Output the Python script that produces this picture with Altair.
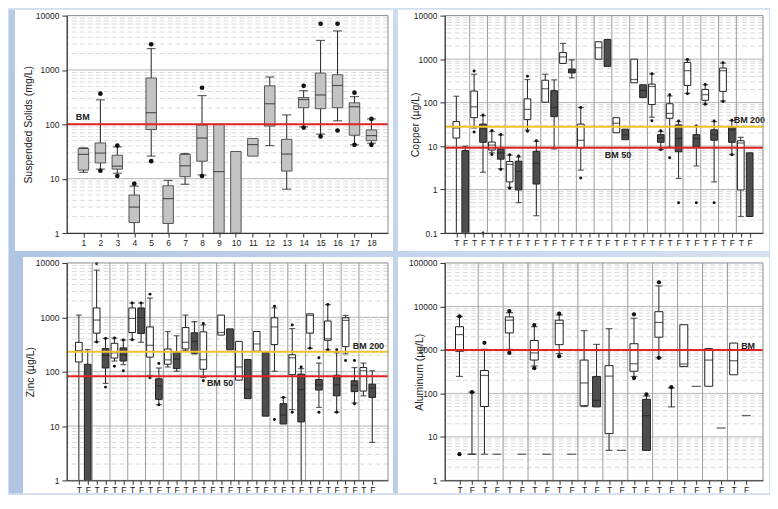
import altair as alt
import pandas as pd

FONT = "Liberation Sans"

# ---------------- Suspended solids (18 sites) ----------------
SS_CAT = list(range(1, 19))
SS_Q1 = [14.4, 19.5, 15, 1.56, 80, 1.5, 10.9, 21, 1, 1, 26, 93, 13.8, 202, 194, 202, 63, 50]
SS_MED = [28, 29.6, 17, 3.0, 164, 4.3, 17.3, 56, 13.5, None, 42.4, 239, 28.4, 286, 347, 518, 211, 62]
SS_Q3 = [36, 45.5, 27, 5.0, 713, 7.4, 28, 97, 100, 31.7, 55, 511, 53, 311, 877, 818, 249, 79]
SS_WLO = [13.1, 15, 12.6, 1, 26, 1, 7.9, 11.7, None, None, None, 40.7, 6.4, 90, 66, 116, 42, 45]
SS_WHI = [37, 282, 38.5, 7.3, 2473, 9.3, 29, 338, None, None, None, 743, 149, 416, 3496, 5224, 324, 126]
SS_OUT = [[], [367, 14], [40.7, 11.2], [8.1], [2960, 21], [], [], [471, 11.2], [], [], [], [],
          [], [511, 87], [7079, 60], [7079, 77], [383, 42], [126, 42]]

# ---------------- Copper (T/F pairs, 17 sites) ----------------
CU_Q1 = [15.3, 0.1, 45, 12.2, 8.1, 5.0, 1.5, 0.98, 40.6, 1.34, 102, 47.5, 795, 480, 9.1, None, 996, 680,
         20.3, 14, 285, 130, 90, 12.2, 43.5, 7.4, 248, 9.4, 113, 13.6, 181, 12.2, 0.98, 0.24]
CU_MED = [26, None, 80, 25, 10.5, 7, 3.8, 2.6, 70, 4.0, 208, 77, 1125, 533, 13.6, None, 1832, None,
          33.6, 18, 339, 191, 235, 15.3, 56.5, 15, 542, 14.8, 152, 18.3, 542, 23.7, 11.8, None]
CU_Q3 = [36.6, 7.9, 184, 32, 12.4, 8.6, 4.4, 4.5, 122, 7.6, 327, 188, 1412, 592, 32, None, 2506, 2830,
         45, 24.5, 996, 257, 266, 18.3, 94, 30.7, 837, 18.3, 201, 23.7, 623, 28.2, 13.3, 7.0]
CU_WLO = [0.1, 0.1, 26, 2.5, 7.0, 3.0, 1.13, 0.5, 23.3, 0.25, None, 8.6, None, 370, 2.8, None, None, None,
          None, None, None, None, 46, 8.3, 9.4, 1.8, 163, 3.5, 92, 1.5, 109, 6.4, 0.24, None]
CU_WHI = [140, 9.9, 448, 50, 21.7, 18, 6.2, 5.6, 339, 12.9, 448, 333, 2296, 962, 77, None, None, None,
          None, None, None, None, 456, 21.7, 142, 36.6, 962, 28.2, 257, 36.6, 809, 38.6, 15.9, None]
CU_OUT = [[], [], [533, 21], [52, 0.1], [22.8, 6.4], [18.5, 2.9], [6.3, 1.07], [5.9], [404, 22], [13.3],
          [], [], [], [], [77, 1.84], [], [], [], [], [], [], [], [460, 38], [22.5, 8.3], [152, 5.4],
          [37.5, 0.5], [980, 160], [29, 0.5], [262, 92], [37.5, 0.5], [830, 106], [39.5, 6.3], [], []]

# ---------------- Zinc ----------------
ZN_Q1 = [151, 1, 512, 117, 178, 157, 526, 505, 185, 31, 137, 114, 262, 219, 111, None, 471, 252,
         70, 32, 238, 15.2, 315, 10.9, 88, 11.9, 512, 46, 377, 36, 289, 43, 44, 33.6]
ZN_MED = [245, None, 891, 199, 222, 205, 956, 982, 306, 55, 165, 170, 347, 360, 166, None, 526, None,
          122, 47, 324, None, 666, 15.9, 180, 47, 1084, 57, 404, 57, 879, 56, 104, 50]
ZN_Q3 = [347, 137, 1490, 266, 333, 274, 1490, 1490, 666, 74, 262, 228, 648, 519, 541, None, 1098, 613,
         361, 168, 548, 225, 982, 25.8, 205, 90, 1161, 72, 855, 86, 982, 68, 119, 59]
ZN_WLO = [1, 1, 352, 61, 157, 135, 388, 347, 85, 24.7, 122, 102, 245, 213, 78, None, None, None,
          None, None, None, None, 102, None, 20, 1, 270, 22, 252, 18, 213, 26.5, 36, 5.0]
ZN_WHI = [1098, 255, 7370, 410, 415, 382, 1836, 1836, 2262, 117, 548, 458, 1098, 832, 724, None, None, None,
          None, None, None, None, 1490, 33.6, 621, 114, None, 144, 1713, 222, 1084, 119, 144, 104]
ZN_OUT = [[], [], [9730, 352], [410, 52], [415, 126], [382, 104], [1836, 388], [1836], [2672, 77], [141, 24.7],
          [], [], [], [], [766, 68], [], [], [], [], [], [], [], [1600, 13.2], [33.6], [724, 18], [122],
          [270], [180, 18], [1713, 252], [252, 18], [161], [161, 25.8], [], []]

# ---------------- Aluminum (12 sites) ----------------
AL_Q1 = [933, None, 50, None, 2460, None, 585, None, 1320, None, 52, 49, 11.9, None, 324, 4.9,
         1964, None, 414, None, 146, None, 268, None]
AL_MED = [2256, 4, 259, 4, 4830, 4, 856, 4, 4064, 4, 174, 69.5, 250, 4.9, 483, 30.8,
          4285, None, 475, 146, 585, 16, 565, 31]
AL_Q3 = [3420, None, 336, None, 5745, None, 1652, None, 4830, None, 585, 246, 435, None, 1390, 73,
         7580, None, 3793, None, 1071, None, 1438, None]
AL_WLO = [246, 4, 4, None, 1035, None, 428, None, 827, None, 50, None, 4.9, None, 246, None,
          661, 49, None, None, None, None, None, None]
AL_WHI = [5847, 107, 1035, None, 7195, None, 3420, None, 6380, None, 2778, 1342, 3081, None, 5360, 87,
          29760, 134, None, None, None, None, None, None]
AL_OUT = [[5900, 4.0], [107], [1462], [], [7850, 856], [], [3727, 380], [], [6834, 719], [], [], [],
          [], [], [6600, 226], [95], [35960, 661], [139], [], [], [], [], [], []]

TF = ["T", "F"]


def decades(lo, hi):
    out, v = [], lo
    while v <= hi * 1.0001:
        out.append(round(v, 6))
        v *= 10
    return out


def frames(xs, fills, q1, med, q3, wlo, whi, outs, ymin):
    box, mid, dash, wh, cap, pts = [], [], [], [], [], []
    for i, x in enumerate(xs):
        if q1[i] is not None and q3[i] is not None:
            box.append({"x": x, "lo": q1[i], "hi": q3[i], "fill": fills[i]})
            if med[i] is not None:
                mid.append({"x": x, "v": med[i]})
        elif med[i] is not None:
            dash.append({"x": x, "v": med[i]})
        if wlo[i] is not None or whi[i] is not None:
            lo = wlo[i] if wlo[i] is not None else (q1[i] if q1[i] is not None else med[i])
            hi = whi[i] if whi[i] is not None else (q3[i] if q3[i] is not None else med[i])
            wh.append({"x": x, "lo": lo, "hi": hi})
            for c in (wlo[i], whi[i]):
                if c is not None and c > ymin * 1.0001:
                    cap.append({"x": x, "v": c})
        for o in outs[i]:
            pts.append({"x": x, "v": o})
    cols = {"box": ["x", "lo", "hi", "fill"], "mid": ["x", "v"], "dash": ["x", "v"],
            "wh": ["x", "lo", "hi"], "cap": ["x", "v"], "pts": ["x", "v"]}
    d = dict(box=box, mid=mid, dash=dash, wh=wh, cap=cap, pts=pts)
    return {k: pd.DataFrame(v, columns=cols[k]) for k, v in d.items()}


def panel(xs, fills, q1, med, q3, wlo, whi, outs, *, ymin, ymax, W, H, xdom, xaxis,
          ytitle, title_x, boxw, capw, dotsize, dashw, box_stroke, seps,
          bm_lines, bm_texts, white, extra=None):
    yscale = alt.Scale(type="log", domain=[ymin, ymax], nice=False)
    xscale = alt.Scale(domain=xdom, nice=False, zero=False)
    decs = decades(ymin, ymax)
    minor = [round(m * d, 6) for d in decs[:-1] for m in range(2, 10)]
    yaxis = alt.Axis(values=decs, format="~g", title=ytitle, grid=False, zindex=1,
                     tickSize=5, tickColor="#333", domainColor="#333", labelPadding=3,
                     labelFontSize=8.5, labelColor="#222", titleFontSize=10.5,
                     titleFontWeight="normal", titleColor="#222", titleX=title_x,
                     titleY=H / 2, titleBaseline="middle", titleAngle=270)
    X = lambda f: alt.X(f, scale=xscale, axis=xaxis)
    Y = lambda f: alt.Y(f, scale=yscale, axis=yaxis)
    f = frames(xs, fills, q1, med, q3, wlo, whi, outs, ymin)
    one = pd.DataFrame({"a": [0]})
    layers = []
    if extra is not None:
        layers.append(extra)
    layers.append(alt.Chart(one).mark_rect(color="white").encode(
        x=alt.value(white[0]), x2=alt.value(white[1]), y=alt.value(white[2]), y2=alt.value(white[3])))
    layers.append(alt.Chart(pd.DataFrame({"v": minor})).mark_rule(
        color="#d9d9d9", strokeDash=[5, 3], strokeWidth=1).encode(y=Y("v:Q")))
    layers.append(alt.Chart(pd.DataFrame({"v": decs[1:-1]})).mark_rule(
        color="#b5b5b5", strokeWidth=1).encode(y=Y("v:Q")))
    if seps:
        layers.append(alt.Chart(pd.DataFrame({"s": seps})).mark_rule(
            color="#9c9c9c", strokeWidth=1).encode(x=X("s:Q")))
    layers.append(alt.Chart(f["wh"]).mark_rule(color="#222", strokeWidth=1).encode(
        x=X("x:Q"), y=Y("lo:Q"), y2="hi:Q"))
    layers.append(alt.Chart(f["box"]).mark_bar(size=boxw, stroke=box_stroke, strokeWidth=1).encode(
        x=X("x:Q"), y=Y("lo:Q"), y2="hi:Q", color=alt.Color("fill:N", scale=None)))
    layers.append(alt.Chart(f["mid"]).mark_tick(orient="horizontal", size=boxw, thickness=1.2,
                                                color="#222").encode(x=X("x:Q"), y=Y("v:Q")))
    layers.append(alt.Chart(f["cap"]).mark_tick(orient="horizontal", size=capw, thickness=1.2,
                                                color="#222").encode(x=X("x:Q"), y=Y("v:Q")))
    if len(f["dash"]):
        layers.append(alt.Chart(f["dash"]).mark_tick(orient="horizontal", size=dashw, thickness=1.3,
                                                     color="#222").encode(x=X("x:Q"), y=Y("v:Q")))
    layers.append(alt.Chart(f["pts"]).mark_circle(size=dotsize, color="#111", opacity=1).encode(
        x=X("x:Q"), y=Y("v:Q")))
    for val, col in bm_lines:
        layers.append(alt.Chart(pd.DataFrame({"v": [val]})).mark_rule(color=col, strokeWidth=2).encode(
            y=Y("v:Q")))
    for tx, xv, yv, dy in bm_texts:
        layers.append(alt.Chart(pd.DataFrame({"x": [xv], "v": [yv], "t": [tx]})).mark_text(
            align="left", baseline="middle", fontSize=9, fontWeight="bold", color="#222",
            font=FONT, dy=dy).encode(x=X("x:Q"), y=Y("v:Q"), text="t:N"))
    layers.append(alt.Chart(one).mark_rect(fillOpacity=0, stroke="#8c8c8c", strokeWidth=1).encode(
        x=alt.value(0), x2=alt.value(W), y=alt.value(0), y2=alt.value(H)))
    return alt.layer(*layers).properties(width=W, height=H)


def tf_axis(n):
    return alt.Axis(values=list(range(n)), labelExpr="datum.value % 2 == 0 ? 'T' : 'F'",
                    title=None, grid=False, zindex=1, tickSize=4, tickColor="#333",
                    domainColor="#333", labelFontSize=8.5, labelColor="#222", labelPadding=1,
                    labelFlush=False, labelOverlap=False)


W1, W2, H = 322, 319, 218
one = pd.DataFrame({"a": [0]})
bg = alt.Chart(one).mark_rect(color=alt.LinearGradient(
    gradient="linear", x1=0, y1=0.4, x2=1, y2=0,
    stops=[alt.GradientStop(color="#b0c5e4", offset=0),
           alt.GradientStop(color="#ccd9ef", offset=0.55),
           alt.GradientStop(color="#dde6f4", offset=1)])).encode(
    x=alt.value(-58), x2=alt.value(704), y=alt.value(-6), y2=alt.value(479))

TF_FILL = {"T": "#ffffff", "F": "#4d4d4d"}

p1 = panel(SS_CAT, ["#c3c3c3"] * 18, SS_Q1, SS_MED, SS_Q3, SS_WLO, SS_WHI, SS_OUT,
           ymin=1, ymax=10000, W=W1, H=H, xdom=[0.315, 18.685],
           xaxis=alt.Axis(values=SS_CAT, format="d", title=None, grid=False, zindex=1, tickSize=4,
                          tickColor="#333", domainColor="#333", labelFontSize=8.5,
                          labelColor="#222", labelPadding=1),
           ytitle="Suspended Solids (mg/L)", title_x=-38, boxw=10.5, capw=9, dotsize=22, dashw=10,
           box_stroke="#555", seps=None,
           bm_lines=[(100, "#e02424")], bm_texts=[("BM", 0.55, 100, -7)],
           white=(-52, W1 + 5, -6, H + 18), extra=bg)

SEP17 = [k + 0.5 for k in range(1, 33, 2)]
p2 = panel(list(range(34)), [TF_FILL[TF[i % 2]] for i in range(34)],
           CU_Q1, CU_MED, CU_Q3, CU_WLO, CU_WHI, CU_OUT,
           ymin=0.1, ymax=10000, W=W2, H=H, xdom=[-0.73, 33.94], xaxis=tf_axis(34),
           ytitle="Copper (µg/L)", title_x=-29, boxw=6.7, capw=6, dotsize=9, dashw=8,
           box_stroke="#222", seps=SEP17,
           bm_lines=[(28, "#f2c12e"), (9.1, "#e02424")],
           bm_texts=[("BM 200", 31.2, 28, -7), ("BM 50", 16.7, 9.1, 7)],
           white=(-47, W2 + 6, -6, H + 18))

p3 = panel(list(range(34)), [TF_FILL[TF[i % 2]] for i in range(34)],
           ZN_Q1, ZN_MED, ZN_Q3, ZN_WLO, ZN_WHI, ZN_OUT,
           ymin=1, ymax=10000, W=W1, H=H, xdom=[-0.79, 34.21], xaxis=tf_axis(34),
           ytitle="Zinc (µg/L)", title_x=-36, boxw=6.7, capw=6, dotsize=9, dashw=8,
           box_stroke="#222", seps=SEP17,
           bm_lines=[(232, "#f2c12e"), (82, "#e02424")],
           bm_texts=[("BM 200", 30.8, 232, -6), ("BM 50", 14.4, 82, 7)],
           white=(-44, W1 + 5, -6, H + 13))

SEP12 = [k + 0.5 for k in range(1, 23, 2)]
p4 = panel(list(range(24)), [TF_FILL[TF[i % 2]] for i in range(24)],
           AL_Q1, AL_MED, AL_Q3, AL_WLO, AL_WHI, AL_OUT,
           ymin=1, ymax=100000, W=W2, H=H, xdom=[-0.775, 23.955], xaxis=tf_axis(24),
           ytitle="Aluminum (µg/L)", title_x=-25, boxw=8, capw=7, dotsize=18, dashw=9,
           box_stroke="#222", seps=SEP12,
           bm_lines=[(1000, "#e02424")], bm_texts=[("BM", 22.6, 1000, -4)],
           white=(-47, W2 + 6, -6, H + 13))

chart = alt.concat(p1, p2, p3, p4, columns=2, spacing={"row": 30, "column": 57},
                   bounds="flush").properties(padding=0).configure(
    background="#d3deef", font=FONT).configure_view(stroke="transparent")

chart.save("out.html", embed_options={"renderer": "svg", "actions": False})
